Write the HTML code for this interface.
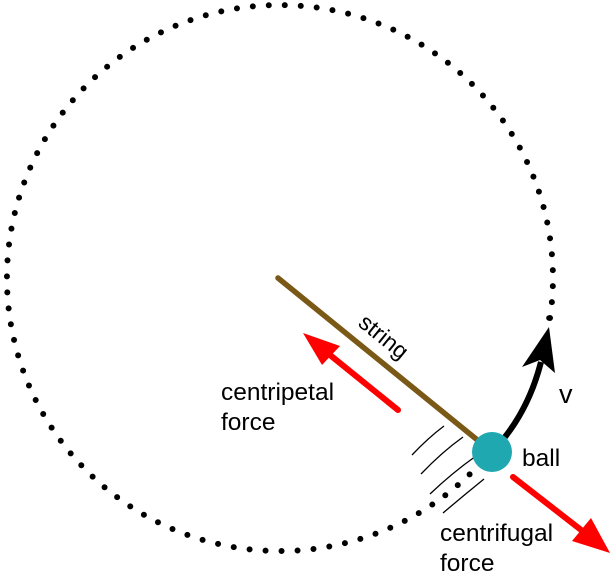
<!DOCTYPE html>
<html><head><style>body{margin:0;background:#fff}svg{display:block}</style></head>
<body>
<svg width="612" height="582" viewBox="0 0 612 582" xmlns="http://www.w3.org/2000/svg" font-family="Liberation Sans, Arial, sans-serif">
<path d="M550 318 A273 273 0 1 0 476 468" fill="none" stroke="#000" stroke-width="6" stroke-linecap="round" stroke-dasharray="0 16"/>
<line x1="278" y1="278" x2="486" y2="447" stroke="#7a5816" stroke-width="5.5" stroke-linecap="round"/>
<g fill="none" stroke="#000" stroke-width="1.3">
<path d="M412 455 Q428 438 444 426"/>
<path d="M421 474 Q442 452 463 437"/>
<path d="M430 494 Q452 473 476 456"/>
<path d="M443 513 Q463 496 484 479"/>
</g>
<path d="M505 437 Q530 405 541 362" fill="none" stroke="#000" stroke-width="6"/>
<polygon points="549,327 555,373 540,360 522,367" fill="#000"/>
<circle cx="549" cy="318" r="2.8" fill="#000"/>
<line x1="398" y1="410" x2="330" y2="355" stroke="#f00" stroke-width="6" stroke-linecap="round"/>
<polygon points="303,333 340,346 322,365" fill="#f00"/>
<line x1="513" y1="477" x2="585" y2="533" stroke="#f00" stroke-width="6" stroke-linecap="round"/>
<polygon points="610,553 572,541 591,518" fill="#f00"/>
<circle cx="492" cy="452" r="20" fill="#1fa8b0"/>
<g font-size="24.5" fill="#000">
<text x="221" y="400">centripetal</text>
<text x="221" y="430">force</text>
<text x="522" y="466">ball</text>
<text x="559" y="403" font-size="27">v</text>
<text x="440" y="541">centrifugal</text>
<text x="440" y="571">force</text>
<text x="0" y="0" transform="translate(357 325) rotate(39)" font-size="23">string</text>
</g>
</svg>
</body></html>
